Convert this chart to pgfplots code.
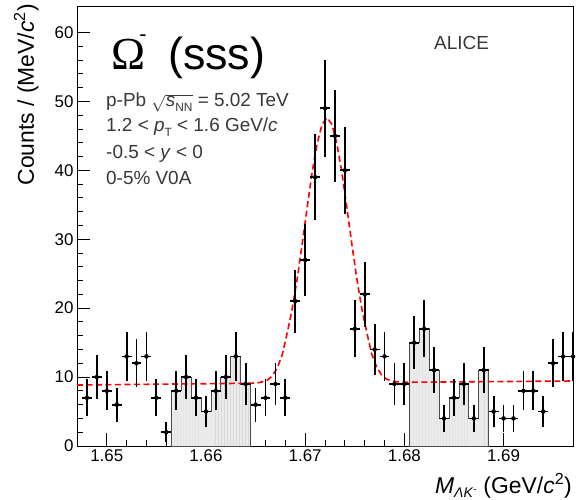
\documentclass[border=0pt]{standalone}
\usepackage{pgfplots}
\pgfplotsset{compat=1.18}
\usetikzlibrary{patterns}
\usepackage{fontspec}
\setmainfont{Liberation Sans}
\newfontfamily\seriffont{Liberation Serif}
\definecolor{anngray}{gray}{0.22}
\newcommand{\sub}[1]{\raisebox{-0.5ex}{\fontsize{12}{12}\selectfont #1}}
\newcommand{\xsub}[1]{\raisebox{-0.35ex}{\fontsize{14}{14}\selectfont #1}}
\begin{document}
\begin{tikzpicture}
\begin{axis}[name=ax, at={(0,0)}, anchor=south west, scale only axis,
  width=496bp, height=439bp,
  xmin=1.647, xmax=1.697, ymin=0, ymax=63.7,
  xtick={1.65,1.66,1.67,1.68,1.69}, xticklabels={1.65,1.66,1.67,1.68,1.69},
  ytick={0,10,20,30,40,50,60}, yticklabels={0,10,20,30,40,50,60},
  minor x tick num=4, minor y tick num=4,
  tick align=inside, xtick pos=left, ytick pos=left,
  major tick length=13bp, minor tick length=6bp,
  tick style={black, line width=0.9bp},
  axis line style={line width=1bp},
  ticklabel style={font=\fontsize{17}{19}\selectfont},
  clip=true]
% sideband histograms
\addplot[const plot, fill=black!8, draw=black!70, line width=0.8bp,
  postaction={pattern=vertical lines, pattern color=black!15}] coordinates {
 (1.6565,8)(1.6575,10)(1.6585,7)(1.6595,5)(1.6605,8)(1.6615,10)(1.6625,13)(1.6635,9)(1.6645,9)} \closedcycle;
\addplot[const plot, fill=black!8, draw=black!70, line width=0.8bp,
  postaction={pattern=vertical lines, pattern color=black!15}] coordinates {
 (1.6805,15)(1.6815,17)(1.6825,11)(1.6835,4)(1.6845,7)(1.6855,9)(1.6865,4)(1.6875,11)(1.6885,11)} \closedcycle;
% fit
\addplot[red, dashed, line width=1.6bp, dash pattern=on 6bp off 3.5bp] coordinates {
 (1.6470,8.85)(1.6642,9.10)(1.6652,9.16)(1.6657,9.32)(1.6662,9.57)(1.6667,10.18)
 (1.6672,11.38)(1.6677,13.29)(1.6682,16.47)(1.6687,19.96)(1.6692,24.30)(1.6697,29.30)
 (1.6702,34.59)(1.6707,39.64)(1.6712,43.85)(1.6717,46.65)(1.6722,47.64)(1.6727,46.67)
 (1.6732,43.87)(1.6737,39.68)(1.6742,34.63)(1.6747,29.36)(1.6752,24.36)(1.6757,20.04)
 (1.6762,16.56)(1.6767,13.39)(1.6772,11.50)(1.6777,10.30)(1.6782,9.71)(1.6787,9.46)
 (1.6792,9.32)(1.6802,9.25)(1.6970,9.43)};
% data
\addplot[only marks, mark=none,
  error bars/.cd, x dir=both, x explicit, y dir=both, y explicit, error mark=none,
  error bar style={draw=black, line width=1.8bp}] coordinates {
 (1.648,7) +- (0.0005,2.65)
 (1.649,10) +- (0.0005,3.16)
 (1.650,8) +- (0.0005,2.83)
 (1.651,6) +- (0.0005,2.45)
 (1.652,13) +- (0.0005,3.61)
 (1.653,12) +- (0.0005,3.46)
 (1.654,13) +- (0.0005,3.61)
 (1.655,7) +- (0.0005,2.65)
 (1.656,2) +- (0.0005,1.41)
 (1.657,8) +- (0.0005,2.83)
 (1.658,10) +- (0.0005,3.16)
 (1.659,7) +- (0.0005,2.65)
 (1.660,5) +- (0.0005,2.24)
 (1.661,8) +- (0.0005,2.83)
 (1.662,10) +- (0.0005,3.16)
 (1.663,13) +- (0.0005,3.61)
 (1.664,9) +- (0.0005,3.00)
 (1.665,6) +- (0.0005,2.45)
 (1.666,7) +- (0.0005,2.65)
 (1.667,9) +- (0.0005,3.00)
 (1.668,7) +- (0.0005,2.65)
 (1.669,21) +- (0.0005,4.58)
 (1.670,27) +- (0.0005,5.20)
 (1.671,39) +- (0.0005,6.24)
 (1.672,49) +- (0.0005,7.00)
 (1.673,45) +- (0.0005,6.71)
 (1.674,40) +- (0.0005,6.32)
 (1.675,17) +- (0.0005,4.12)
 (1.676,22) +- (0.0005,4.69)
 (1.677,14) +- (0.0005,3.74)
 (1.678,13) +- (0.0005,3.61)
 (1.679,9) +- (0.0005,3.00)
 (1.680,9) +- (0.0005,3.00)
 (1.681,15) +- (0.0005,3.87)
 (1.682,17) +- (0.0005,4.12)
 (1.683,11) +- (0.0005,3.32)
 (1.684,4) +- (0.0005,2.00)
 (1.685,7) +- (0.0005,2.65)
 (1.686,9) +- (0.0005,3.00)
 (1.687,4) +- (0.0005,2.00)
 (1.688,11) +- (0.0005,3.32)
 (1.689,5) +- (0.0005,2.24)
 (1.690,4) +- (0.0005,2.00)
 (1.691,4) +- (0.0005,2.00)
 (1.692,8) +- (0.0005,2.83)
 (1.693,8) +- (0.0005,2.83)
 (1.694,5) +- (0.0005,2.24)
 (1.695,12) +- (0.0005,3.46)
 (1.696,13) +- (0.0005,3.61)
 (1.697,13) +- (0.0005,3.61)
};
\end{axis}
% annotations
\node[anchor=base west, inner sep=0, font=\fontsize{46}{46}\selectfont] at ([shift={(34.5bp,-63bp)}]ax.north west) {{\seriffont Ω}\kern-6.5bp\raisebox{28.3bp}{\fontsize{22}{22}\selectfont -}};
\node[anchor=base west, inner sep=0, font=\fontsize{45}{45}\selectfont] at ([shift={(91bp,-63bp)}]ax.north west) {(sss)};
\node[anchor=base west, inner sep=0, text=anngray, font=\fontsize{19}{20}\selectfont] at ([shift={(29bp,-100bp)}]ax.north west) {p-Pb $\sqrt{\mbox{\textit{s}\sub{NN}}}$ = 5.02 TeV};
\node[anchor=base west, inner sep=0, text=anngray, font=\fontsize{19}{20}\selectfont] at ([shift={(29bp,-125bp)}]ax.north west) {1.2 < \textit{p}\sub{T} < 1.6 GeV/\textit{c}};
\node[anchor=base west, inner sep=0, text=anngray, font=\fontsize{19}{20}\selectfont] at ([shift={(29bp,-152bp)}]ax.north west) {-0.5 < \textit{y} < 0};
\node[anchor=base west, inner sep=0, text=anngray, font=\fontsize{19}{20}\selectfont] at ([shift={(29bp,-178bp)}]ax.north west) {0-5\% V0A};
\node[anchor=base west, inner sep=0, text=anngray, font=\fontsize{19}{20}\selectfont] at ([shift={(357bp,-42.7bp)}]ax.north west) {ALICE};
% axis titles
\node[rotate=90, anchor=base east, inner sep=0, font=\fontsize{23}{23}\selectfont] at ([shift={(-43bp,3bp)}]ax.north west) {Counts / (MeV/\textit{c}\textsuperscript{2})};
\node[anchor=base east, inner sep=0, font=\fontsize{23}{23}\selectfont] at ([shift={(-1bp,-47bp)}]ax.south east) {\textit{M}\xsub{\textit{ΛK}\textsuperscript{-}} (GeV/\textit{c}\textsuperscript{2})};
\pgfresetboundingbox
\path[use as bounding box] (-77bp,-54bp) rectangle (499bp,446bp);
\end{tikzpicture}
\end{document}
